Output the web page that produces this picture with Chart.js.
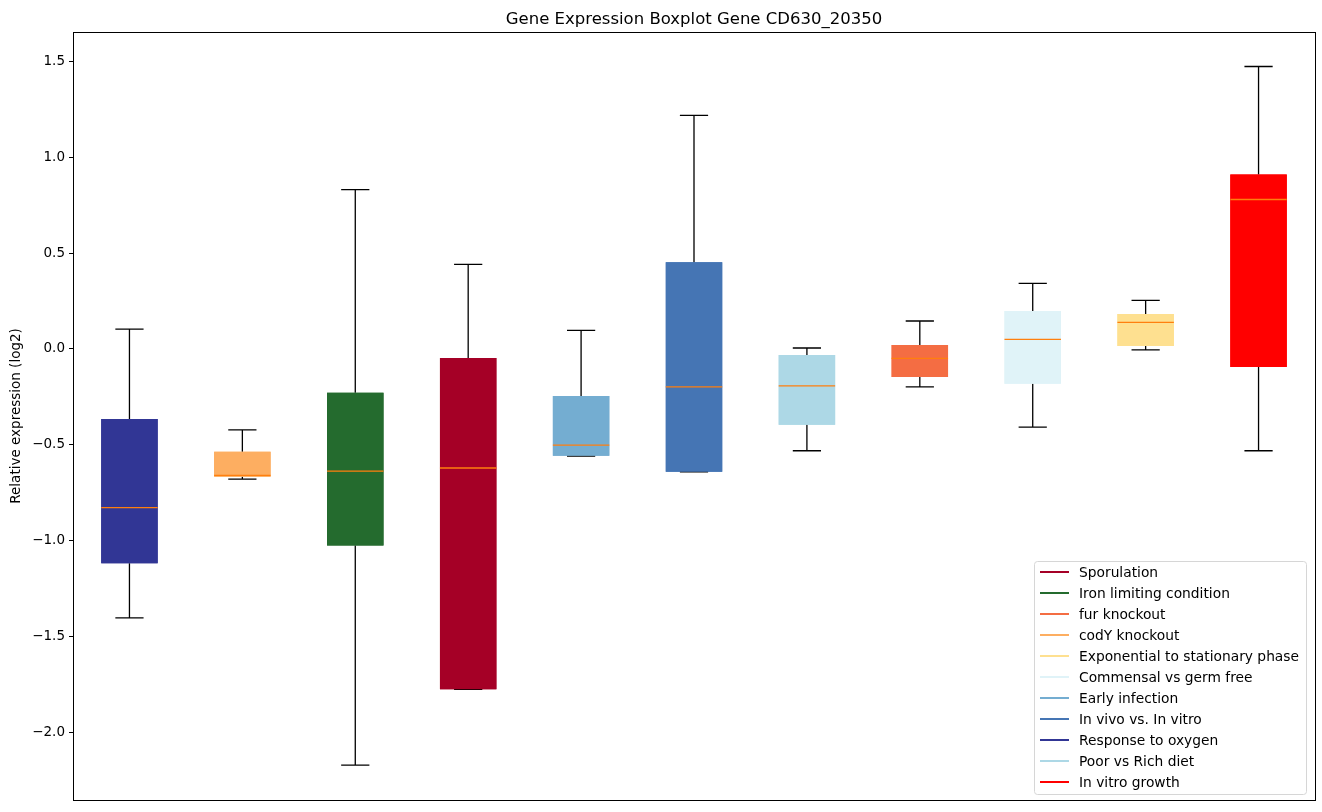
<!DOCTYPE html>
<html>
<head>
<meta charset="utf-8">
<script src="https://cdn.jsdelivr.net/npm/chart.js@4.4.0/dist/chart.umd.min.js"></script>
<style>
  html, body { margin: 0; padding: 0; background: #fff; }
  #wrap { width: 1322px; height: 812px; }
</style>
</head>
<body>
<div id="wrap"><canvas id="grafica" width="1322" height="812"></canvas></div>
<script>
/* ===============================
   DATOS
=============================== */
const categorias = [
  "Response to oxygen", "codY knockout", "Iron limiting condition", "Sporulation",
  "Early infection", "In vivo vs. In vitro", "Poor vs Rich diet", "fur knockout",
  "Commensal vs germ free", "Exponential to stationary phase", "In vitro growth"
];
const bigoteInf = [-1.403, -0.679, -2.172, -1.776, -0.559, -0.641, -0.531, -0.198, -0.408, -0.005, -0.531];
const cuartil1  = [-1.118, -0.667, -1.026, -1.776, -0.557, -0.641, -0.396, -0.146, -0.182,  0.016, -0.094];
const mediana   = [-0.828, -0.660, -0.637, -0.621, -0.502, -0.198, -0.193, -0.049,  0.050,  0.139,  0.780];
const cuartil3  = [-0.365, -0.536, -0.229, -0.047, -0.245,  0.453, -0.031,  0.021,  0.198,  0.182,  0.911];
const bigoteSup = [ 0.104, -0.422,  0.832,  0.441,  0.097,  1.219,  0.005,  0.146,  0.342,  0.254,  1.474];
const yTicks = [-2.0, -1.5, -1.0, -0.5, 0.0, 0.5, 1.0, 1.5];
const leyendaOrden = [
  "Sporulation", "Iron limiting condition", "fur knockout", "codY knockout",
  "Exponential to stationary phase", "Commensal vs germ free", "Early infection",
  "In vivo vs. In vitro", "Response to oxygen", "Poor vs Rich diet", "In vitro growth"
];

const colores = {
  "Sporulation": "#a50026",
  "Iron limiting condition": "#246b2e",
  "fur knockout": "#f46d43",
  "codY knockout": "#fdae61",
  "Exponential to stationary phase": "#fee090",
  "Commensal vs germ free": "#e0f3f8",
  "Early infection": "#74add1",
  "In vivo vs. In vitro": "#4575b4",
  "Response to oxygen": "#313695",
  "Poor vs Rich diet": "#add8e6",
  "In vitro growth": "#ff0000"
};

const FUENTE = "'DejaVu Sans', sans-serif";
const menos = v => v.toFixed(1).replace("-", "\u2212");

/* ===============================
   PLUGIN: bigotes, medianas, marco, titulo, leyenda
=============================== */
const boxPlugin = {
  id: "boxPlugin",
  afterDatasetsDraw(chart) {
    const { ctx, scales: { x, y } } = chart;
    const meta = chart.getDatasetMeta(0);
    ctx.save();
    categorias.forEach((c, i) => {
      const bar = meta.data[i];
      const cx = x.getPixelForValue(i);
      const cap = bar.width / 4;
      ctx.strokeStyle = "#000";
      ctx.lineWidth = 1.3;
      ctx.beginPath();
      // bigote superior
      ctx.moveTo(cx, y.getPixelForValue(cuartil3[i]));
      ctx.lineTo(cx, y.getPixelForValue(bigoteSup[i]));
      ctx.moveTo(cx - cap, y.getPixelForValue(bigoteSup[i]));
      ctx.lineTo(cx + cap, y.getPixelForValue(bigoteSup[i]));
      // bigote inferior
      ctx.moveTo(cx, y.getPixelForValue(cuartil1[i]));
      ctx.lineTo(cx, y.getPixelForValue(bigoteInf[i]));
      ctx.moveTo(cx - cap, y.getPixelForValue(bigoteInf[i]));
      ctx.lineTo(cx + cap, y.getPixelForValue(bigoteInf[i]));
      ctx.stroke();
    });
    // cajas encima de los bigotes (como matplotlib)
    meta.data.forEach(b => b.draw(ctx));
    categorias.forEach((c, i) => {
      const bar = meta.data[i];
      const cx = x.getPixelForValue(i);
      const half = bar.width / 2;
      const my = y.getPixelForValue(mediana[i]);
      ctx.strokeStyle = "#ff7f0e";
      ctx.lineWidth = 1.3;
      ctx.beginPath();
      ctx.moveTo(cx - half, my);
      ctx.lineTo(cx + half, my);
      ctx.stroke();
    });
    ctx.restore();
  },
  afterDraw(chart) {
    const { ctx, chartArea: ca } = chart;
    ctx.save();
    // marco
    ctx.strokeStyle = "#000";
    ctx.lineWidth = 1;
    ctx.strokeRect(Math.round(ca.left) + 0.5, Math.round(ca.top) + 0.5,
      Math.round(ca.right - ca.left), Math.round(ca.bottom - ca.top));
    // titulo
    ctx.fillStyle = "#000";
    ctx.font = "16.5px " + FUENTE;
    ctx.textAlign = "center";
    ctx.textBaseline = "alphabetic";
    ctx.fillText("Gene Expression Boxplot Gene CD630_20350", (ca.left + ca.right) / 2, 24);
    // leyenda
    ctx.font = "13.8px " + FUENTE;
    ctx.textAlign = "left";
    ctx.textBaseline = "middle";
    const lx = 1034, ly = 561, lw = 272, lh = 233, paso = 21;
    ctx.fillStyle = "rgba(255,255,255,0.8)";
    ctx.strokeStyle = "#d6d6d6";
    ctx.beginPath();
    if (ctx.roundRect) ctx.roundRect(lx + 0.5, ly + 0.5, lw, lh, 3); else ctx.rect(lx + 0.5, ly + 0.5, lw, lh);
    ctx.fill();
    ctx.stroke();
    leyendaOrden.forEach((nombre, k) => {
      const yy = ly + 11 + k * paso;
      ctx.strokeStyle = colores[nombre];
      ctx.lineWidth = 2;
      ctx.beginPath();
      ctx.moveTo(lx + 6, yy);
      ctx.lineTo(lx + 35, yy);
      ctx.stroke();
      ctx.fillStyle = "#000";
      ctx.fillText(nombre, lx + 45, yy + 1);
    });
    ctx.restore();
  }
};

/* ===============================
   GRAFICA
=============================== */
new Chart(document.getElementById("grafica"), {
  type: "bar",
  data: {
    labels: categorias,
    datasets: [{
      label: "box",
      data: categorias.map((c, i) => [cuartil1[i], cuartil3[i]]),
      backgroundColor: categorias.map(c => colores[c]),
      borderWidth: 0,
      borderSkipped: false,
      categoryPercentage: 1,
      barPercentage: 0.5
    }]
  },
  options: {
    responsive: false,
    animation: false,
    devicePixelRatio: 1,
    layout: { padding: { top: 32, right: 7, bottom: 6, left: 0 } },
    plugins: {
      legend: { display: false },
      title: { display: false },
      tooltip: { enabled: false }
    },
    scales: {
      x: { display: false, offset: true },
      y: {
        min: -2.353,
        max: 1.654,
        afterBuildTicks: s => { s.ticks = yTicks.map(v => ({ value: v })); },
        afterFit: s => { s.width = 73; },
        grid: { drawOnChartArea: false, tickLength: 4, color: "#000", lineWidth: 1 },
        border: { display: true, color: "#000" },
        ticks: {
          color: "#000",
          padding: 4,
          font: { family: FUENTE, size: 13.5 },
          callback: v => menos(v)
        },
        title: {
          display: true,
          text: "Relative expression (log2)",
          color: "#000",
          padding: { top: 8, bottom: 0 },
          font: { family: FUENTE, size: 13.5 }
        }
      }
    }
  },
  plugins: [boxPlugin]
});
</script>
</body>
</html>
